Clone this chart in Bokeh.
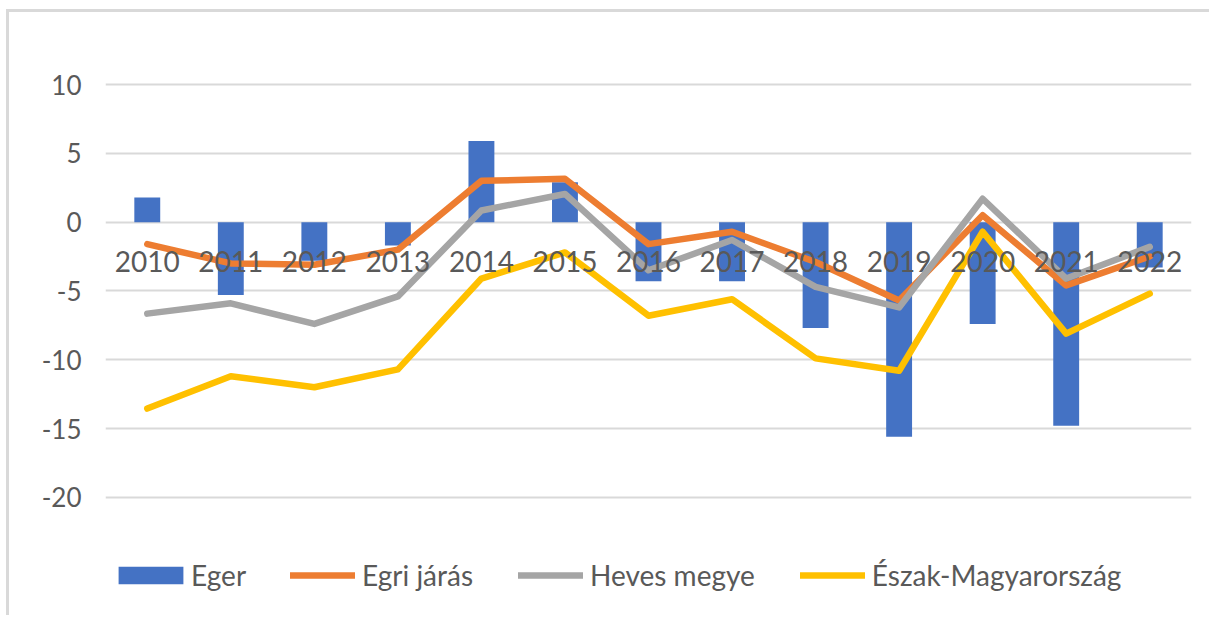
from bokeh.plotting import figure
from bokeh.models import (ColumnDataSource, FactorRange, Range1d, FixedTicker,
                          Legend, LegendItem)
from bokeh.core.properties import value
from bokeh.embed import file_html
from bokeh.resources import INLINE

years = ["2010", "2011", "2012", "2013", "2014", "2015", "2016", "2017",
         "2018", "2019", "2020", "2021", "2022"]
eger = [1.8, -5.3, -2.8, -1.7, 5.9, 2.9, -4.3, -4.3, -7.7, -15.6, -7.4, -14.8, -3.3]
egri_jaras = [-1.6, -3.0, -3.1, -2.0, 3.0, 3.15, -1.6, -0.7, -2.9, -5.7, 0.5, -4.6, -2.5]
heves_megye = [-6.65, -5.9, -7.4, -5.4, 0.85, 2.05, -3.5, -1.3, -4.7, -6.2, 1.7, -4.1, -1.8]
eszak_mo = [-13.55, -11.2, -12.0, -10.7, -4.1, -2.2, -6.8, -5.6, -9.9, -10.8, -0.7, -8.1, -5.2]
y_ticks = [-20, -15, -10, -5, 0, 5, 10]
y_tick_labels = ["-20", "-15", "-10", "-5", "0", "5", "10"]
series_names = ["Eger", "Egri járás", "Heves megye", "Észak-Magyarország"]

FONT = "Lato"
TXT = "#595959"

src = ColumnDataSource(dict(year=years, eger=eger, egri=egri_jaras,
                            heves=heves_megye, eszak=eszak_mo,
                            zero=[0] * len(years)))

# the lower part of the frame (below -20) holds the legend
p = figure(x_range=FactorRange(*years, range_padding=0),
           y_range=Range1d(-27.5, 10.15),
           width=1203, height=606, output_backend="svg", toolbar_location=None,
           min_border_left=96, min_border_right=21, min_border_top=70,
           min_border_bottom=18)
p.styles = {"border-top": "3px solid #d9d9d9", "border-left": "3px solid #d9d9d9",
            "margin-left": "6px", "margin-top": "9px"}
p.outline_line_color = None
p.xaxis.visible = False
p.xgrid.visible = False

p.yaxis.ticker = FixedTicker(ticks=y_ticks)
p.yaxis.major_label_overrides = {t: l for t, l in zip(y_ticks, y_tick_labels)}
p.yaxis.axis_line_color = None
p.yaxis.major_tick_line_color = None
p.yaxis.minor_tick_line_color = None
p.yaxis.major_label_standoff = 18
p.yaxis.major_label_text_font = FONT
p.yaxis.major_label_text_font_size = "26px"
p.yaxis.major_label_text_color = TXT
p.ygrid.ticker = FixedTicker(ticks=y_ticks)
p.ygrid.grid_line_color = "#d9d9d9"
p.ygrid.grid_line_width = 2

bars = p.vbar(x="year", top="eger", bottom="zero", width=0.31, source=src,
              fill_color="#4472C4", line_color=None)
l1 = p.line(x="year", y="egri", source=src, line_color="#ED7D31", line_width=6.5,
            line_join="round", line_cap="round")
l2 = p.line(x="year", y="heves", source=src, line_color="#A5A5A5", line_width=6.5,
            line_join="round", line_cap="round")
l3 = p.line(x="year", y="eszak", source=src, line_color="#FFC000", line_width=6.5,
            line_join="round", line_cap="round")

p.text(x="year", y="zero", text="year", source=src, y_offset=39,
       text_align="center", text_baseline="middle", text_font=value(FONT),
       text_font_size="28px", text_color=TXT)

common = dict(orientation="horizontal", padding=0, margin=0,
              border_line_color=None, background_fill_alpha=0,
              label_text_font=FONT, label_text_font_size="28px",
              label_text_color=TXT)

legend_bar = Legend(items=[LegendItem(label=series_names[0], renderers=[bars])],
                    location=(5, 8), glyph_width=81, glyph_height=22,
                    label_standoff=0, **common)
legend_lines = Legend(items=[LegendItem(label=series_names[1], renderers=[l1]),
                             LegendItem(label=series_names[2], renderers=[l2]),
                             LegendItem(label=series_names[3], renderers=[l3])],
                      location=(185, 8), glyph_width=65, glyph_height=18,
                      label_standoff=7, spacing=45, **common)
p.add_layout(legend_bar, "center")
p.add_layout(legend_lines, "center")

open("out.html", "w").write(file_html(p, INLINE))
